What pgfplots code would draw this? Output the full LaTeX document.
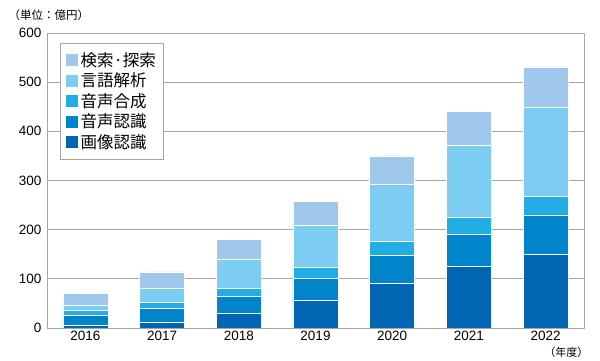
\documentclass[border=0pt]{standalone}
\usepackage{pgfplots}
\usepackage{pgfplotstable}
\pgfplotsset{compat=1.18}
\usepackage{fontspec}
\setmainfont{Liberation Sans}
\newfontfamily\jp{Noto Sans CJK JP}
\definecolor{cA}{HTML}{0066B3}
\definecolor{cB}{HTML}{0085CA}
\definecolor{cC}{HTML}{22AEE4}
\definecolor{cD}{HTML}{7DCDF3}
\definecolor{cE}{HTML}{A0C8EC}
\definecolor{gridg}{HTML}{A6A6A6}
\pgfplotstableread{
x img rec syn nlp srch
0 5 20 12 10 23
1 12 28 12 29 33
2 30 34 17 59 40
3 57 44 23 85 48
4 91 57 28 116 58
5 125 66 34 147 68
6 150 80 37 182 82
}\data
\begin{document}
\begin{tikzpicture}
\begin{axis}[
  at={(0pt,0pt)}, anchor=south west,
  scale only axis, width=537pt, height=295pt,
  ybar stacked, bar width=45pt,
  xmin=-0.5, xmax=6.5, ymin=0, ymax=600,
  xtick={0,...,6}, xticklabels={2016,2017,2018,2019,2020,2021,2022},
  ytick={0,100,...,600},
  ymajorgrids, grid style={gridg, line width=0.8pt},
  axis line style={gridg, line width=0.8pt},
  major tick length=0pt,
  ticklabel style={font=\fontsize{13.5}{13.5}\selectfont},
  yticklabel style={xshift=-2pt},
  /pgf/number format/assume math mode=true,
  every axis plot/.append style={draw=white, line width=0.6pt},
  reverse legend,
  legend cell align=left,
  legend image code/.code={\fill[#1] (0pt,-6.5pt) rectangle (13pt,6.5pt);},
  legend style={at={(0.024,0.966)}, anchor=north west, draw=gridg,
    font=\jp\fontsize{16.5}{16.5}\selectfont, inner xsep=5pt, inner ysep=7pt,
    row sep=1.2pt, /tikz/every even column/.append style={column sep=0pt}},
]
\addplot[fill=cA] table[x=x, y=img] {\data};
\addplot[fill=cB] table[x=x, y=rec] {\data};
\addplot[fill=cC] table[x=x, y=syn] {\data};
\addplot[fill=cD] table[x=x, y=nlp] {\data};
\addplot[fill=cE] table[x=x, y=srch] {\data};
\legend{画像認識,音声認識,音声合成,言語解析,検索·探索}
\end{axis}
\node[anchor=west, font=\jp\fontsize{11.5}{11.5}\selectfont] at (-42pt,313pt) {（単位：億円）};
\node[anchor=east, font=\jp\fontsize{11}{11}\selectfont] at (545pt,-24pt) {（年度）};
\path[use as bounding box] (-47pt,-32pt) rectangle (553pt,328pt);
\end{tikzpicture}
\end{document}
